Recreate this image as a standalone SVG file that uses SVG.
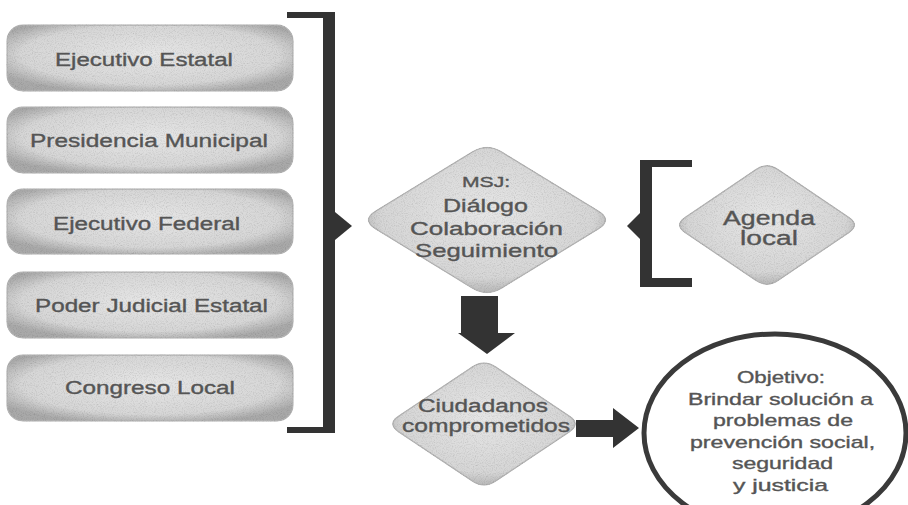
<svg xmlns="http://www.w3.org/2000/svg" width="908" height="505" viewBox="0 0 908 505">
<defs>
<radialGradient id="fillG" cx="50%" cy="45%" r="60%">
<stop offset="0" stop-color="#e6e6e6"/>
<stop offset="0.75" stop-color="#d6d6d6"/>
<stop offset="1" stop-color="#a9a9a9"/>
</radialGradient>
<filter id="grain" x="-5%" y="-5%" width="110%" height="110%">
<feTurbulence type="fractalNoise" baseFrequency="0.9" numOctaves="2" seed="4" result="n"/>
<feColorMatrix in="n" type="saturate" values="0" result="g"/>
<feComponentTransfer in="g" result="g2">
<feFuncR type="linear" slope="0.7" intercept="0.62"/>
<feFuncG type="linear" slope="0.7" intercept="0.62"/>
<feFuncB type="linear" slope="0.7" intercept="0.62"/>
<feFuncA type="linear" slope="0" intercept="1"/>
</feComponentTransfer>
<feBlend in="SourceGraphic" in2="g2" mode="multiply" result="b"/>
<feComposite in="b" in2="SourceGraphic" operator="in"/>
</filter>
</defs>
<style>
.shape{fill:url(#fillG);stroke:#b4b4b4;stroke-width:1.5;filter:url(#grain)}
.t{font-family:"Liberation Sans",Arial,sans-serif;fill:#555555;stroke:#555555;stroke-width:0.35}
.b{font-size:18px}
.dark{fill:#333333}
</style>
<rect width="908" height="505" fill="#ffffff"/>

<g id="connectors">
<path class="dark" d="M287,12 H335 V433 H287 V427 H323 V18 H287 Z"/>
<path class="dark" d="M335,212 L352,226 L335,240 Z"/>
<path class="dark" d="M692,160 H640 V287 H692 V278 H652 V167 H692 Z"/>
<path class="dark" d="M640,213 L627,226 L640,239 Z"/>
<path class="dark" d="M461,296 H498 V333 H515 L487,354 L458,333 H461 Z"/>
<path class="dark" d="M576,420 H613 V408 L639,428 L613,448 V437 H576 Z"/>
</g>

<g id="box-ejecutivo-estatal">
<rect class="shape" x="7" y="25" width="286" height="66" rx="16"/>
<text class="t b" transform="matrix(1.32 0 0 1 55 0)" y="66" textLength="134.8" lengthAdjust="spacingAndGlyphs">Ejecutivo Estatal</text>
</g>
<g id="box-presidencia-municipal">
<rect class="shape" x="7" y="107" width="286" height="66" rx="16"/>
<text class="t b" transform="matrix(1.32 0 0 1 30 0)" y="147" textLength="180.3" lengthAdjust="spacingAndGlyphs">Presidencia Municipal</text>
</g>
<g id="box-ejecutivo-federal">
<rect class="shape" x="7" y="189" width="286" height="65" rx="16"/>
<text class="t b" transform="matrix(1.32 0 0 1 53 0)" y="230" textLength="141.7" lengthAdjust="spacingAndGlyphs">Ejecutivo Federal</text>
</g>
<g id="box-poder-judicial">
<rect class="shape" x="7" y="272" width="286" height="66" rx="16"/>
<text class="t b" transform="matrix(1.32 0 0 1 35 0)" y="312" textLength="176.5" lengthAdjust="spacingAndGlyphs">Poder Judicial Estatal</text>
</g>
<g id="box-congreso-local">
<rect class="shape" x="7" y="355" width="286" height="66" rx="16"/>
<text class="t b" transform="matrix(1.32 0 0 1 65 0)" y="394" textLength="128.8" lengthAdjust="spacingAndGlyphs">Congreso Local</text>
</g>

<g id="diamond-msj">
<path class="shape" d="M472,152.2 Q487,143 502,152.2 L598,210.8 Q613,220 598,229.2 L502,287.8 Q487,297 472,287.8 L376,229.2 Q361,220 376,210.8 Z"/>
<text class="t" font-size="15" transform="matrix(1.32 0 0 1 462 0)" y="187" textLength="36.4" lengthAdjust="spacingAndGlyphs">MSJ:</text>
<text class="t" font-size="19" transform="matrix(1.32 0 0 1 443 0)" y="212" textLength="64.4" lengthAdjust="spacingAndGlyphs">Diálogo</text>
<text class="t" font-size="19" transform="matrix(1.32 0 0 1 410 0)" y="235" textLength="115.9" lengthAdjust="spacingAndGlyphs">Colaboración</text>
<text class="t" font-size="19" transform="matrix(1.32 0 0 1 415 0)" y="257" textLength="108.3" lengthAdjust="spacingAndGlyphs">Seguimiento</text>
</g>

<g id="diamond-agenda">
<path class="shape" d="M755.8,169.6 Q767,162 778.2,169.6 L848.8,217.4 Q860,225 848.8,232.6 L778.2,280.4 Q767,288 755.8,280.4 L685.2,232.6 Q674,225 685.2,217.4 Z"/>
<text class="t" font-size="20" transform="matrix(1.32 0 0 1 723 0)" y="225" textLength="69.7" lengthAdjust="spacingAndGlyphs">Agenda</text>
<text class="t" font-size="20" transform="matrix(1.32 0 0 1 740 0)" y="245" textLength="43.9" lengthAdjust="spacingAndGlyphs">local</text>
</g>

<g id="diamond-ciudadanos">
<path class="shape" d="M472.4,366.8 Q484,359 495.6,366.8 L569.4,416.2 Q581,424 569.4,431.8 L495.6,481.2 Q484,489 472.4,481.2 L398.6,431.8 Q387,424 398.6,416.2 Z"/>
<text class="t" font-size="18" transform="matrix(1.32 0 0 1 418 0)" y="412" textLength="98.5" lengthAdjust="spacingAndGlyphs">Ciudadanos</text>
<text class="t" font-size="18" transform="matrix(1.32 0 0 1 402 0)" y="432" textLength="127.3" lengthAdjust="spacingAndGlyphs">comprometidos</text>
</g>

<g id="ellipse-objetivo">
<ellipse cx="775" cy="433" rx="131" ry="99" fill="#ffffff" stroke="#3a3a3a" stroke-width="5"/>
<text class="t" font-size="16" transform="matrix(1.32 0 0 1 737 0)" y="383" textLength="66.7" lengthAdjust="spacingAndGlyphs">Objetivo:</text>
<text class="t" font-size="16" transform="matrix(1.32 0 0 1 688 0)" y="405" textLength="140.2" lengthAdjust="spacingAndGlyphs">Brindar solución a</text>
<text class="t" font-size="16" transform="matrix(1.32 0 0 1 713 0)" y="426" textLength="106.1" lengthAdjust="spacingAndGlyphs">problemas de</text>
<text class="t" font-size="16" transform="matrix(1.32 0 0 1 690 0)" y="448" textLength="140.2" lengthAdjust="spacingAndGlyphs">prevención social,</text>
<text class="t" font-size="16" transform="matrix(1.32 0 0 1 732 0)" y="469" textLength="76.5" lengthAdjust="spacingAndGlyphs">seguridad</text>
<text class="t" font-size="16" transform="matrix(1.32 0 0 1 733 0)" y="491" textLength="72" lengthAdjust="spacingAndGlyphs">y justicia</text>
</g>
</svg>
